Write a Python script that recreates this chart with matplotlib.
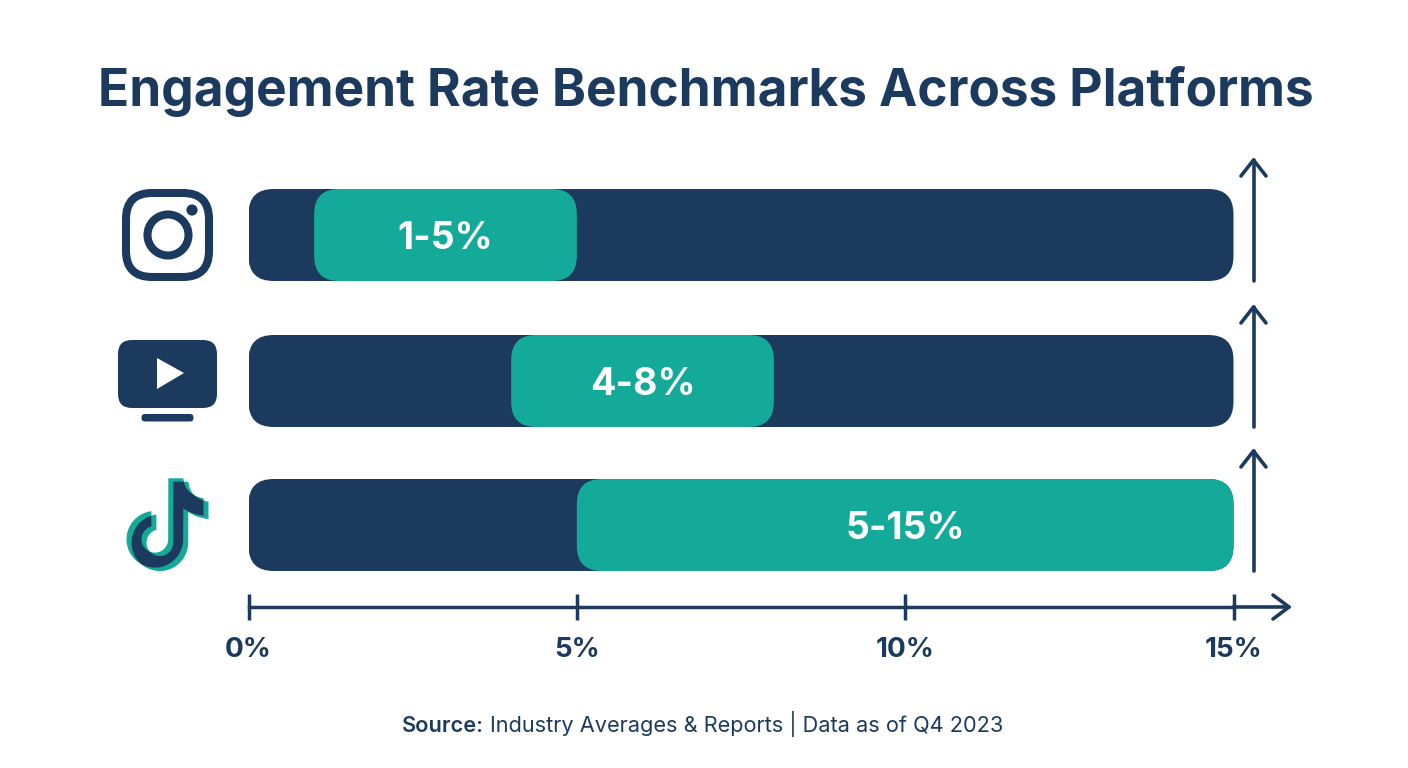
import numpy as np
import matplotlib
matplotlib.use("Agg")
import matplotlib.pyplot as plt
from matplotlib.patches import FancyBboxPatch, Circle, Polygon, PathPatch
from matplotlib.path import Path

navy = "#1c3a5e"
teal = "#14aa99"

# data
platforms = ["Instagram", "YouTube", "TikTok"]
low = [1, 4, 5]
high = [5, 8, 15]
labels = ["1-5%", "4-8%", "5-15%"]
axis_max = 15
xticks = [0, 5, 10, 15]
xticklabels = ["0%", "5%", "10%", "15%"]
row_center = [235, 381, 525]
bar_h = 92
radius = 25

plt.rcParams["font.family"] = ["Inter", "DejaVu Sans"]

fig = plt.figure(figsize=(14.08, 7.68), dpi=100)
fig.patch.set_facecolor("white")

# overlay in pixels for the title, icons and arrows
bg = fig.add_axes([0, 0, 1, 1])
bg.set_xlim(0, 1408)
bg.set_ylim(768, 0)
bg.axis("off")

# x in percent, y in pixels
ax = fig.add_axes([248.5 / 1408, 0, 985 / 1408, 1])
ax.patch.set_alpha(0)
ax.set_xlim(0, axis_max)
ax.set_ylim(768, 0)
px_per_pct = 985 / axis_max


def rounded(x0, x1, yc, color, z):
    r = radius / px_per_pct
    p = FancyBboxPatch((x0, yc - bar_h / 2), x1 - x0, bar_h,
                       boxstyle="round,pad=0,rounding_size=%f" % r,
                       mutation_aspect=px_per_pct, fc=color, ec="none", zorder=z)
    ax.add_patch(p)


for yc, a, b, lab in zip(row_center, low, high, labels):
    rounded(0, axis_max, yc, navy, 2)
    rounded(a, b, yc, teal, 3)
    ax.text((a + b) / 2, yc, lab, color="white", fontsize=27, fontweight="bold",
            ha="center", va="center_baseline", zorder=4)

# x axis
for s in ["top", "left", "right"]:
    ax.spines[s].set_visible(False)
ax.spines["bottom"].set_position(("data", 607))
ax.spines["bottom"].set_color(navy)
ax.spines["bottom"].set_linewidth(2.5)
ax.set_yticks([])
ax.set_xticks(xticks)
ax.set_xticklabels(xticklabels, fontsize=20, fontweight="bold", color=navy)
ax.tick_params(axis="x", direction="inout", length=18.5, width=2.5, color=navy, pad=12)


def line(xs, ys):
    bg.plot(xs, ys, color=navy, lw=2.6, solid_capstyle="round", solid_joinstyle="round")


# axis arrow
line([1233, 1289], [607, 607])
line([1273, 1289, 1273], [595, 607, 619])

# vertical arrows next to the bars
for bottom, tip in [(281, 160), (427, 307), (571, 451)]:
    line([1253.5, 1253.5], [bottom, tip])
    line([1241, 1253.5, 1266], [tip + 16, tip, tip + 16])


def icon_box(x0, y0, x1, y1, r, **kw):
    p = FancyBboxPatch((x0, y0), x1 - x0, y1 - y0,
                       boxstyle="round,pad=0,rounding_size=%f" % r, **kw)
    bg.add_patch(p)
    return p


# instagram
icon_box(126, 193, 209, 277, 26, fc="none", ec=navy, lw=5.8)
bg.add_patch(Circle((168, 235), 20.5, fc="none", ec=navy, lw=5.8))
bg.add_patch(Circle((192, 210), 5.6, fc=navy, ec="none"))

# youtube
icon_box(118, 340, 217, 408, 14, fc=navy, ec="none")
bg.add_patch(Polygon([(157, 358), (157, 389), (184, 373)], fc="white", ec="none"))
icon_box(141.5, 414, 193.5, 421.5, 3.5, fc=navy, ec="none")


# tiktok, two teal notes with the overlap in navy
def note_path(dx, dy):
    cx, cy = 172 / 3, 243 / 3
    big = 85 / 3
    small = 40 / 3
    pts = [(212.5 / 3, 60 / 3), (257.5 / 3, 60 / 3)]
    codes = [Path.MOVETO, Path.LINETO]
    pts += [(262 / 3, 110 / 3), (318 / 3, 120 / 3)]
    codes += [Path.CURVE3, Path.CURVE3]
    pts += [(318 / 3, 172 / 3)]
    codes += [Path.LINETO]
    pts += [(280 / 3, 168 / 3), (257.5 / 3, 150 / 3)]
    codes += [Path.CURVE3, Path.CURVE3]
    t = np.radians(np.linspace(0, 263, 50))
    pts += [(cx + big * np.cos(v), cy + big * np.sin(v)) for v in t]
    codes += [Path.LINETO] * len(t)
    t2 = np.radians(np.linspace(255, 0, 50))
    pts += [(cx + small * np.cos(v), cy + small * np.sin(v)) for v in t2]
    codes += [Path.LINETO] * len(t2)
    pts += [(212.5 / 3, 60 / 3)]
    codes += [Path.CLOSEPOLY]
    pts = [(100 + x + dx, 460 + y + dy) for x, y in pts]
    return Path(pts, codes)


note_a = PathPatch(note_path(-2.5, -1.7), fc=teal, ec="none")
note_b = PathPatch(note_path(2.5, 1.7), fc=teal, ec="none")
bg.add_patch(note_a)
bg.add_patch(note_b)
overlap = PathPatch(note_path(-2.5, -1.7), fc=navy, ec="none", zorder=note_b.get_zorder() + 0.1)
bg.add_patch(overlap)
overlap.set_clip_path(note_b)

# title and source
bg.text(706, 86, "Engagement Rate Benchmarks Across Platforms", color=navy, fontsize=37,
        fontweight="bold", ha="center", va="center_baseline")
bg.text(484, 732, "Source:", color=navy, fontsize=15.65, fontweight="semibold", ha="right", va="baseline")
bg.text(490, 732, "Industry Averages & Reports | Data as of Q4 2023", color=navy, fontsize=15.65,
        ha="left", va="baseline")

fig.savefig("out.png", dpi=100)
